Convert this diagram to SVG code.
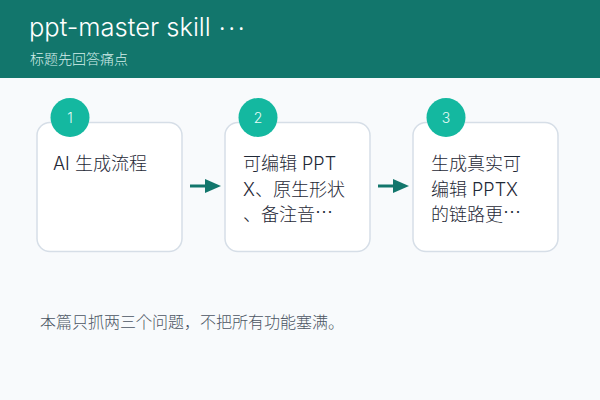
<svg xmlns="http://www.w3.org/2000/svg" width="600" height="400" viewBox="0 0 600 400">
<style>
.t{font-family:Inter,"Noto Sans CJK JP",sans-serif;font-weight:300}
.cjk{font-family:"Noto Sans CJK SC",sans-serif}
.card{fill:#ffffff;stroke:#d6dee7;stroke-width:1.5}
.badge{fill:#14b8a0}
.num{font-family:Inter,sans-serif;font-weight:300;font-size:14px;fill:#e6fbf7;text-anchor:middle}
.body{font-family:Inter,"Noto Sans CJK JP",sans-serif;font-weight:300;font-size:18px;fill:#1f2937}
.conn{stroke:#12766c;stroke-width:3;fill:none}
</style>
<rect x="0" y="0" width="600" height="400" fill="#f8fafc"/>
<rect x="0" y="0" width="600" height="78" fill="#12766c"/>
<text x="29" y="36" class="t" font-size="25.5" fill="#ffffff">ppt-master skill <tspan class="cjk" baseline-shift="6" letter-spacing="1">…</tspan></text>
<text x="30" y="64" class="t" font-size="14" fill="#d5efeb">标题先回答痛点</text>

<g id="connectors">
<path class="conn" d="M190,186 L206,186"/>
<path d="M205,179 L221,186 L205,193 Z" fill="#12766c"/>
<path class="conn" d="M378,186 L394,186"/>
<path d="M393,179 L409,186 L393,193 Z" fill="#12766c"/>
</g>

<g id="node1">
<rect class="card" x="37" y="122.5" width="145" height="129" rx="13"/>
<circle class="badge" cx="70" cy="117.5" r="19.5"/>
<text class="num" x="70" y="122.5">1</text>
<text class="body" x="53" y="170">AI 生成流程</text>
</g>
<g id="node2">
<rect class="card" x="225" y="122.5" width="145" height="129" rx="13"/>
<circle class="badge" cx="258" cy="117.5" r="19.5"/>
<text class="num" x="258" y="122.5">2</text>
<text class="body" x="243" y="170">可编辑 PPT</text>
<text class="body" x="243" y="195.5">X、原生形状</text>
<text class="body" x="243" y="221">、备注音<tspan class="cjk" baseline-shift="2.5">…</tspan></text>
</g>
<g id="node3">
<rect class="card" x="413" y="122.5" width="145" height="129" rx="13"/>
<circle class="badge" cx="446" cy="117.5" r="19.5"/>
<text class="num" x="446" y="122.5">3</text>
<text class="body" x="431" y="170">生成真实可</text>
<text class="body" x="431" y="195.5">编辑 PPTX</text>
<text class="body" x="431" y="221">的链路更<tspan class="cjk" baseline-shift="2.5">…</tspan></text>
</g>
<text x="40" y="328" class="t" font-size="16" fill="#4b5563">本篇只抓两三个问题，不把所有功能塞满。</text>
</svg>
